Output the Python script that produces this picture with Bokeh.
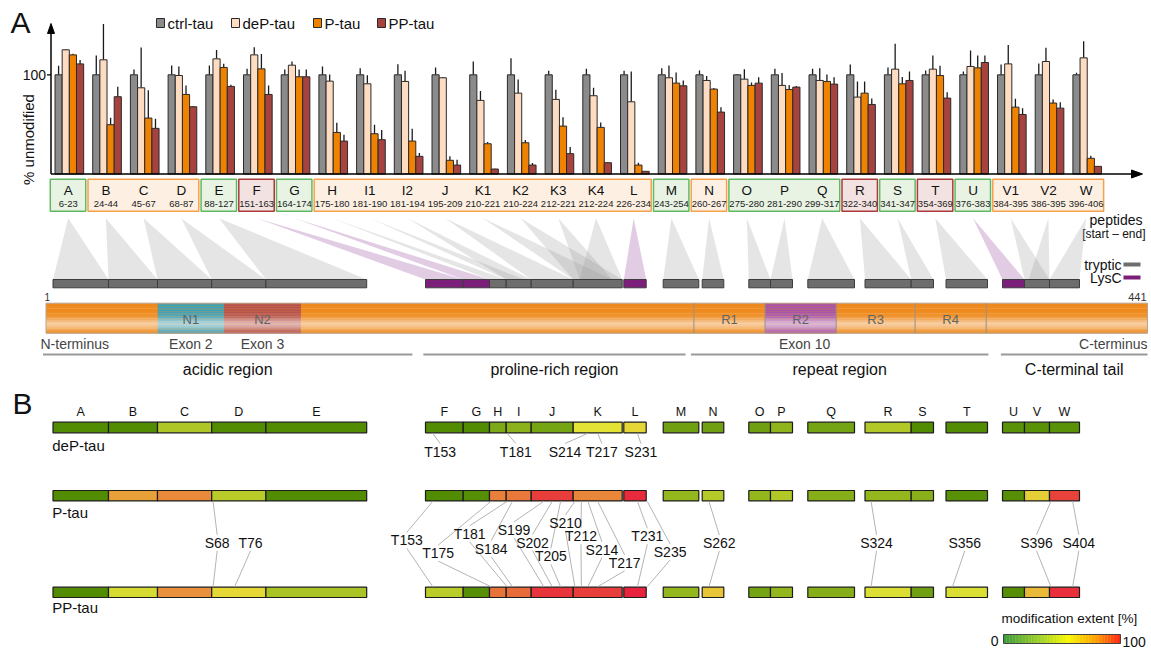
import numpy as np
from bokeh.plotting import figure
from bokeh.models import Range1d, ColumnDataSource
from bokeh.core.properties import value
from bokeh.embed import file_html
from bokeh.resources import INLINE

# ======================= DATA =======================
peptides = ["A", "B", "C", "D", "E", "F", "G", "H", "I1", "I2", "J", "K1", "K2", "K3",
            "K4", "L", "M", "N", "O", "P", "Q", "R", "S", "T", "U", "V1", "V2", "W"]
pep_start = [6, 24, 45, 68, 88, 151, 164, 175, 181, 181, 195, 210, 210, 212,
             212, 226, 243, 260, 275, 281, 299, 322, 341, 354, 376, 384, 386, 396]
pep_end = [23, 44, 67, 87, 127, 163, 174, 180, 190, 194, 209, 221, 224, 221,
           224, 234, 254, 267, 280, 290, 317, 340, 347, 369, 383, 395, 395, 406]
lysc_peptides = ["F", "G", "L", "U"]

series = ["ctrl-tau", "deP-tau", "P-tau", "PP-tau"]
ctrl_vals = [100, 100, 100, 100, 100, 100, 100, 100, 100, 100, 100, 100, 100, 100,
             100, 100, 100, 100, 100, 100, 100, 100, 100, 100, 100, 100, 100, 100]
ctrl_err = [9, 19.5, 5.4, 9.4, 9.4, 6, 5.4, 8.4, 6.7, 10.7, 7.4, 13.4, 16.8, 4,
            6, 4, 6.7, 4.4, 0.7, 6, 6, 10.4, 7.4, 4.4, 3.4, 10.4, 11.4, 2]
deP_vals = [125.2, 115.1, 86.9, 99.3, 116.1, 120.1, 109.7, 93.6, 90.9, 93.3, 97, 74.2, 81.5, 75.2,
            78.9, 72.8, 97, 94.3, 95.6, 89.3, 94.3, 77.5, 105.7, 105.7, 108.4, 111, 113.4, 117.1]
deP_err = [0.5, 36, 40.6, 9, 9, 7.7, 3.7, 6.7, 8.7, 10.7, 0.7, 9.4, 13.8, 9.7,
           8, 30.5, 12.4, 4.4, 10, 12.4, 12.4, 15.8, 25.5, 13.8, 16, 19, 13.8, 16.8]
P_vals = [120.1, 49.7, 56.4, 80.2, 107.4, 106, 98, 41.9, 40.6, 33.2, 13.8, 30.5, 31.5, 48.3,
          47, 9, 91.6, 85.6, 89.3, 85.2, 93.3, 81.5, 90.9, 99.3, 107, 67.4, 71.5, 15.8]
P_err = [1, 7, 28, 9, 3.7, 15, 7.4, 9.7, 9, 12.4, 4, 1.7, 2.7, 9,
         5, 2.3, 10.7, 1, 3, 4.4, 7, 11.7, 7, 9.7, 12.4, 8.4, 3.7, 2.7]
PP_vals = [111, 77.9, 46, 67.8, 88.3, 80.2, 98, 33.2, 34.6, 17.8, 9, 5, 9, 20.5,
           11.4, 2.7, 88.9, 62.4, 91.6, 87.6, 90.6, 70.1, 94.3, 76.5, 112.4, 60, 66.4, 7.7]
PP_err = [4, 10, 9.7, 0.7, 1.7, 9, 7.4, 6.4, 9.7, 3.4, 5.4, 0.3, 2, 6.7,
          0.7, 0.3, 5.4, 5, 6, 1, 7, 6, 9, 6, 7, 6.4, 6, 0.3]

# label boxes grouping peptides (first, last, class)
box_first = ["A", "B", "E", "F", "G", "H", "M", "N", "O", "R", "S", "T", "U", "V1"]
box_last = ["A", "D", "E", "F", "G", "L", "M", "N", "Q", "R", "S", "T", "U", "W"]
box_class = ["green", "orange", "green", "red", "green", "orange", "green", "orange",
             "green", "red", "green", "red", "green", "orange"]

# sequence segments (panel A bottom / panel B)
seg_names = ["A", "B", "C", "D", "E", "F", "G", "H", "I", "J", "K", "L",
             "M", "N", "O", "P", "Q", "R", "S", "T", "U", "V", "W"]
seg_start = [6, 24, 45, 68, 88, 151, 164, 175, 181, 195, 210, 226,
             243, 260, 275, 281, 299, 322, 341, 354, 376, 384, 396]
seg_end = [23, 44, 67, 87, 127, 163, 174, 180, 194, 209, 224, 234,
           254, 267, 280, 290, 317, 340, 347, 369, 383, 395, 406]
lysc_segments = ["F", "G", "L", "U"]

# modification extent [%] per segment
rows = ["deP-tau", "P-tau", "PP-tau"]
deP_mod = [3, 3, 35, 3, 3, 3, 3, 22, 26, 20, 50, 54,
           17, 17, 17, 27, 19, 36, 3, 3, 7, 7, 7]
P_mod = [3, 67, 72, 38, 3, 3, 5, 76, 78, 93, 73, 97,
         28, 37, 28, 36, 24, 28, 25, 6, 5, 57, 92]
PP_mod = [3, 46, 70, 54, 34, 38, 5, 80, 83, 95, 93, 99,
          28, 60, 19, 28, 24, 48, 17, 48, 5, 62, 96]

dep_sites = ["T153", "T181", "S214", "T217", "S231"]
pp_sites = ["S68", "T76", "T153", "T175", "T181", "S184", "S199", "S202", "T205", "S210",
            "T212", "S214", "T217", "T231", "S235", "S262", "S324", "S356", "S396", "S404"]
p_sites = ["S68", "T153", "T175", "T181", "S184", "S199", "S202", "T205", "S210",
           "T212", "S214", "T217", "T231", "S235", "S262", "S324", "S396", "S404"]

dom_names = ["N1", "N2", "R1", "R2", "R3", "R4"]
dom_start = [45, 74, 244, 275, 306, 337]
dom_end = [73, 102, 274, 305, 336, 368]
seq_length = 441
region_names = ["acidic region", "proline-rich region", "repeat region", "C-terminal tail"]
region_start = [1, 148, 244, 377]
region_end = [142, 240, 369, 441]

# ======================= LAYOUT =======================
OFF, W, H = 0, 1150, 650
FONT = value("Liberation Sans")

# residue -> x scale of the peptide map (piecewise linear, residue edges)
SEQ_RES = [5.5, 23.5, 44.5, 67.5, 87.5, 127.5, 150.5, 163.5, 174.5, 180.5, 194.5, 209.5,
           224.5, 225.5, 234.5, 242.5, 254.5, 259.5, 267.5, 274.5, 280.5, 290.5, 298.5,
           317.5, 321.5, 340.5, 347.5, 353.5, 369.5, 375.5, 383.5, 395.5, 406.5]
SEQ_X = [52.5, 108.0, 157.0, 211.2, 265.4, 366.2, 425.0, 462.7, 489.0, 505.7, 530.7, 572.7,
         621.7, 623.3, 645.7, 662.7, 698.3, 701.7, 723.3, 748.3, 770.0, 792.0, 807.3,
         854.0, 864.5, 910.7, 933.0, 945.5, 987.0, 1002.0, 1024.0, 1049.0, 1079.0]
# residue -> x for the domain bar
DOM_RES = [0.5, 44.5, 73.5, 102.5, 243.5, 274.5, 305.5, 336.5, 368.5, 441.5]
DOM_X = [45.5, 157.2, 223.5, 300.4, 693.4, 764.5, 835.7, 914.6, 985.7, 1147.0]


def seq_x(r):
    return np.interp(r, SEQ_RES, SEQ_X)


def dom_x(r):
    return np.interp(r, DOM_RES, DOM_X)


def hex2rgb(h):
    return tuple(int(h[i:i + 2], 16) for i in (1, 3, 5))


def rgb2hex(c):
    return "#%02x%02x%02x" % tuple(int(round(max(0, min(255, v)))) for v in c)


def blend(c, f):
    r = hex2rgb(c)
    return rgb2hex([v + (255 - v) * f for v in r])


def cmap(v, stops):
    pos = [s[0] for s in stops]
    cols = [hex2rgb(s[1]) for s in stops]
    return rgb2hex([np.interp(v, pos, [c[k] for c in cols]) for k in range(3)])


SEG_STOPS = [(0, "#4b8700"), (20, "#76a514"), (35, "#aec626"), (50, "#e3e335"),
             (60, "#e8c536"), (70, "#e8903a"), (85, "#e8653a"), (100, "#e81c3c")]
BAR_STOPS = [(0, "#3a9a3a"), (30, "#9ccf2a"), (55, "#f8f800"), (80, "#ff9a00"), (100, "#ff2010")]

# bar chart scales: baseline/100% in pixels, group centres
Y0, Y100 = 173.5, 74.3
PPU = (Y0 - Y100) / 100.0
GX0, GSTEP = 67.7, 37.7
AXX = 50.5

p = figure(width=W, height=H, x_range=Range1d(OFF, OFF + W), y_range=Range1d(OFF + H, OFF),
           output_backend="svg", toolbar_location=None, min_border=0,
           x_axis_type=None, y_axis_type=None)
p.grid.visible = False
p.outline_line_color = None
p.background_fill_color = "white"
p.border_fill_color = "white"
p.extra_y_ranges = {"pct": Range1d((Y0 - (OFF + H)) / PPU, (Y0 - OFF) / PPU)}
p.extra_x_ranges = {"grp": Range1d((OFF - GX0) / GSTEP, (OFF + W - GX0) / GSTEP)}


def txt(x, y, t, size=14, color="#111111", align="center", baseline="middle", angle=0.0,
        xr="default", yr="default"):
    src = ColumnDataSource(dict(x=list(x), y=list(y), text=list(t)))
    p.text(x="x", y="y", text="text", source=src, text_font=FONT,
           text_font_size=value(f"{size}px"), text_color=color, text_align=align,
           text_baseline=baseline, angle=angle, x_range_name=xr, y_range_name=yr)


# ---------------- Panel A: bar chart ----------------
n = len(peptides)
gi = np.arange(n)
BW = 0.19
offs = [-1.5, -0.5, 0.5, 1.5]
vals = [ctrl_vals, deP_vals, P_vals, PP_vals]
errs = [ctrl_err, deP_err, P_err, PP_err]
bar_colors = ["#8b8b8b", "#fddcc1", "#ef8200", "#a6433f"]
for k in range(4):
    xs = gi + 0.03 + offs[k] * BW
    v = np.array(vals[k], float)
    e = np.array(errs[k], float)
    p.segment(x0=xs, x1=xs, y0=v, y1=v + e, line_color="#1a1a1a", line_width=1.3,
              x_range_name="grp", y_range_name="pct")
    p.vbar(x=xs, top=v, bottom=0, width=BW, fill_color=bar_colors[k], line_color="#2a2a2a",
           line_width=1, x_range_name="grp", y_range_name="pct")

# axes (drawn on the pct scale)
p.segment(x0=[AXX], x1=[AXX], y0=[0], y1=[(Y0 - 32) / PPU], line_color="black", line_width=1.5,
          y_range_name="pct")
p.patch(x=[AXX - 3.5, AXX, AXX + 3.5], y=[33, 23, 33], fill_color="black", line_color="black")
p.segment(x0=[AXX], x1=[1132], y0=[0], y1=[0], line_color="black", line_width=1.5,
          y_range_name="pct")
p.patch(x=[1131, 1142, 1131], y=[Y0 - 4, Y0, Y0 + 4], fill_color="black", line_color="black")
p.segment(x0=[AXX - 4], x1=[AXX], y0=[100], y1=[100], line_color="black", line_width=1.3,
          y_range_name="pct")
txt([AXX - 5], [100], ["100"], size=14, align="right", yr="pct")
txt([28], [139], ["% unmodified"], size=15, angle=np.pi / 2)
txt([10], [22], ["A"], size=30, align="left")

# legend
leg_x = [156, 231, 313, 377]
for k in range(4):
    p.quad(left=[leg_x[k]], right=[leg_x[k] + 8], top=[18], bottom=[27],
           fill_color=bar_colors[k], line_color="#2a2a2a", line_width=1)
txt([x + 11 for x in leg_x], [23, 23, 23, 23], series, size=15, align="left")

# peptide label boxes
box_style = {"green": ("#62b862", "#e8f3e4"), "orange": ("#f5a04a", "#fdf0e3"),
             "red": ("#ab3a3a", "#f3e2e2")}
bf = np.array([peptides.index(b) for b in box_first])
bl = np.array([peptides.index(b) for b in box_last])
p.quad(left=bf - 0.475, right=bl + 0.465, top=[178.7] * len(bf), bottom=[210.7] * len(bf),
       fill_color=[box_style[c][1] for c in box_class],
       line_color=[box_style[c][0] for c in box_class], line_width=1.5, x_range_name="grp")
txt(gi, [190] * n, peptides, size=13.5, xr="grp")
txt(gi, [203.5] * n, [f"{a}-{b}" for a, b in zip(pep_start, pep_end)], size=9.5,
    color="#222222", xr="grp")

txt([1142], [219], ["peptides"], size=14, align="right")
txt([1145], [233.5], ["[start \u2013 end]"], size=12, align="right")

# wedges from labels to sequence segments
apex_x = GX0 + GSTEP * gi
wx, wy, wc = [], [], []
for i in range(n):
    wx.append([apex_x[i], seq_x(pep_start[i] - 0.5), seq_x(pep_end[i] + 0.5)])
    wy.append([217.7, 279, 279])
    wc.append("#8e3a96" if peptides[i] in lysc_peptides else "#9a9a9a")
p.patches(xs=wx, ys=wy, fill_color=wc, fill_alpha=0.26, line_color=None)

# sequence segments
ss = np.array(seg_start, float)
se = np.array(seg_end, float)
seg_col = ["#7b1f7b" if s in lysc_segments else "#6d6d6d" for s in seg_names]
p.quad(left=seq_x(ss - 0.5), right=seq_x(se + 0.5), top=[279] * len(ss), bottom=[287.3] * len(ss),
       fill_color=seg_col, line_color="#3c3c3c", line_width=1)

txt([1121], [264], ["tryptic"], size=14, align="right")
txt([1121], [277], ["LysC"], size=14, align="right")
p.segment(x0=[1123, 1123], x1=[1140, 1140], y0=[264, 277], y1=[264, 277],
          line_color=["#6d6d6d", "#7b1f7b"], line_width=4)

# domain bar
txt([dom_x(1)], [296], ["1"], size=10, color="#333333")
txt([1146], [296], [str(seq_length)], size=11, color="#333333", align="right")
DT, DB = 302.7, 332.7
NS = 18
pieces_l = [dom_x(0.5)]
pieces_r = [dom_x(seq_length + 0.5)]
pieces_c = ["#ee8a1e"]
dom_cols = {"N1": "#3ea2b9", "N2": "#b35252", "R2": "#a453ad"}
for nm, a, b in zip(dom_names, dom_start, dom_end):
    if nm in dom_cols:
        pieces_l.append(dom_x(a - 0.5))
        pieces_r.append(dom_x(b + 0.5))
        pieces_c.append(dom_cols[nm])
for s in range(NS):
    tm = (s + 0.5) / NS
    f = 0.55 * np.exp(-((tm - 0.7) / 0.2) ** 2)
    top = DT + s * (DB - DT) / NS
    bot = DT + (s + 1) * (DB - DT) / NS + 0.4
    p.quad(left=pieces_l, right=pieces_r, top=[top] * len(pieces_l), bottom=[bot] * len(pieces_l),
           fill_color=[blend(c, f) for c in pieces_c], line_color=None)
p.quad(left=[dom_x(0.5)], right=[dom_x(seq_length + 0.5)], top=[DT], bottom=[DB],
       fill_color=None, line_color="#b8a38f", line_width=1)
div_r = [243.5, 274.5, 305.5, 336.5, 368.5]
p.segment(x0=dom_x(np.array(div_r)), x1=dom_x(np.array(div_r)), y0=[DT] * 5, y1=[DB] * 5,
          line_color="#9c8f86", line_width=1)
dcx = [(dom_x(a - 0.5) + dom_x(b + 0.5)) / 2 for a, b in zip(dom_start, dom_end)]
txt(dcx, [319] * len(dcx), dom_names, size=13, color="#5f6468")

txt([40], [343], ["N-terminus"], size=14, color="#444444", align="left")
txt([dcx[0], dcx[1], dcx[3] + 4], [343] * 3, ["Exon 2", "Exon 3", "Exon 10"], size=14, color="#444444")
txt([1147], [343], ["C-terminus"], size=14, color="#444444", align="right")

rl = [dom_x(a - 0.5) - 3 for a in region_start]
rr = [dom_x(b + 0.5) for b in region_end]
p.segment(x0=rl, x1=rr, y0=[354] * 4, y1=[354] * 4, line_color="#9a9a9a", line_width=2)
txt([(a + b) / 2 for a, b in zip(rl, rr)], [369] * 4, region_names, size=16)

# ---------------- Panel B ----------------
txt([12], [403], ["B"], size=30, align="left")
ROW_Y = [(421.7, 432.3), (490.0, 500.4), (586.7, 597.0)]
mods = [deP_mod, P_mod, PP_mod]
segL = seq_x(ss - 0.5)
segR = seq_x(se + 0.5)
for r in range(3):
    p.quad(left=segL, right=segR, top=[ROW_Y[r][0]] * len(ss), bottom=[ROW_Y[r][1]] * len(ss),
           fill_color=[cmap(v, SEG_STOPS) for v in mods[r]], line_color="#1c1c1c", line_width=1.2)
txt((segL + segR) / 2, [411] * len(ss), seg_names, size=12.5)
txt([51.7, 51.7, 51.7], [444.5, 511.5, 607], rows, size=15, align="left")


def res_of(site):
    return int(site[1:])


dep_lab = {"T153": (439.6, 451), "T181": (515.3, 451), "S214": (564.5, 451),
           "T217": (601.4, 451), "S231": (640.4, 451)}
site_lab = {"S68": (216.7, 542.3), "T76": (250.0, 542.3), "T153": (406.3, 539.8),
            "T175": (437.7, 552.6), "T181": (469.1, 533.3), "S184": (490.6, 548.2),
            "S199": (513.5, 529.3), "S202": (532.0, 542.0), "T205": (550.4, 555.9),
            "S210": (565.0, 522.4), "T212": (580.5, 535.8), "S214": (601.4, 549.2),
            "T217": (624.1, 562.3), "T231": (646.8, 535.8), "S235": (669.6, 551.5),
            "S262": (718.8, 542.5), "S324": (876.0, 542.3), "S356": (964.3, 542.3),
            "S396": (1036.0, 542.3), "S404": (1078.3, 542.3)}

lx0, lx1, ly0, ly1 = [], [], [], []
for s in dep_sites:
    lx0.append(seq_x(res_of(s))); ly0.append(ROW_Y[0][1] + 0.5)
    lx1.append(dep_lab[s][0]); ly1.append(dep_lab[s][1] - 8)
for s in p_sites:
    lx0.append(seq_x(res_of(s))); ly0.append(ROW_Y[1][1] + 0.5)
    lx1.append(site_lab[s][0]); ly1.append(site_lab[s][1] - 8)
for s in pp_sites:
    lx0.append(site_lab[s][0]); ly0.append(site_lab[s][1] + 8)
    lx1.append(seq_x(res_of(s))); ly1.append(ROW_Y[2][0] - 0.5)
p.segment(x0=lx0, x1=lx1, y0=ly0, y1=ly1, line_color="#b4b4b4", line_width=1)

txt([dep_lab[s][0] for s in dep_sites], [dep_lab[s][1] for s in dep_sites], dep_sites, size=14)
txt([site_lab[s][0] for s in pp_sites], [site_lab[s][1] for s in pp_sites], pp_sites, size=14)

# colour bar
CB_L, CB_R, CB_T, CB_B = 1003, 1120, 634, 643
nb = 80
edges = np.linspace(CB_L, CB_R, nb + 1)
p.quad(left=edges[:-1], right=edges[1:] + 0.3, top=[CB_T] * nb, bottom=[CB_B] * nb,
       fill_color=[cmap(100 * (i + 0.5) / nb, BAR_STOPS) for i in range(nb)], line_color=None)
p.quad(left=[CB_L], right=[CB_R], top=[CB_T], bottom=[CB_B], fill_color=None,
       line_color="#444444", line_width=1)
txt([CB_L - 5], [640], ["0"], size=14, align="right")
txt([CB_R + 2], [641], ["100"], size=14, align="left")
txt([1001], [618], ["modification extent [%]"], size=13.5, align="left")

open("out.html", "w").write(file_html(p, INLINE))
